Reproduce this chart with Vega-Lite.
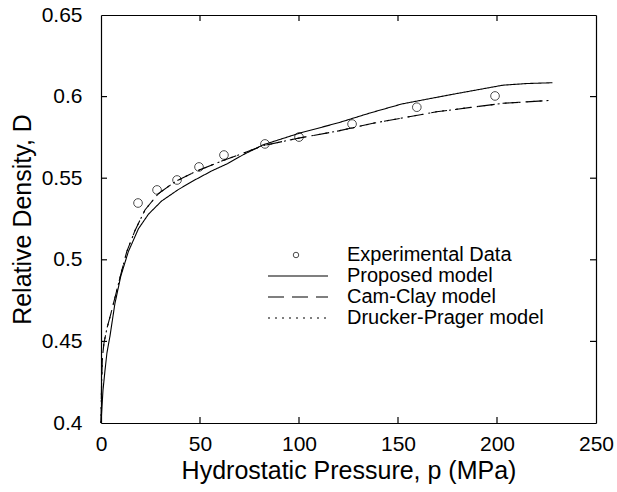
{
  "$schema": "https://vega.github.io/schema/vega-lite/v6.json",
  "width": 495,
  "height": 408,
  "autosize": {"type": "none"},
  "padding": {"left": 101, "top": 15, "right": 21, "bottom": 69},
  "background": "white",
  "config": {
    "font": "Liberation Sans",
    "view": {"stroke": null},
    "axis": {
      "grid": false,
      "ticks": false,
      "domainColor": "black",
      "domainWidth": 1.2,
      "labelColor": "black",
      "labelFontSize": 21,
      "titleColor": "black",
      "titleFontSize": 25,
      "titleFontWeight": "normal"
    },
    "legend": {"labelColor": "black", "labelFontSize": 20, "labelFont": "Liberation Sans", "labelLimit": 400}
  },
  "datasets": {
    "tickmarks": [
      {"edge": "bottom", "p": 50, "D": 0.4},
      {"edge": "bottom", "p": 100, "D": 0.4},
      {"edge": "bottom", "p": 150, "D": 0.4},
      {"edge": "bottom", "p": 200, "D": 0.4},
      {"edge": "top", "p": 50, "D": 0.65},
      {"edge": "top", "p": 100, "D": 0.65},
      {"edge": "top", "p": 150, "D": 0.65},
      {"edge": "top", "p": 200, "D": 0.65},
      {"edge": "left", "p": 0, "D": 0.45},
      {"edge": "left", "p": 0, "D": 0.5},
      {"edge": "left", "p": 0, "D": 0.55},
      {"edge": "left", "p": 0, "D": 0.6},
      {"edge": "right", "p": 250, "D": 0.45},
      {"edge": "right", "p": 250, "D": 0.5},
      {"edge": "right", "p": 250, "D": 0.55},
      {"edge": "right", "p": 250, "D": 0.6}
    ]
  },
  "data": {
    "values": [
      {"series": "Experimental Data", "p": 18.7, "D": 0.5348},
      {"series": "Experimental Data", "p": 28.3, "D": 0.5428},
      {"series": "Experimental Data", "p": 38.4, "D": 0.5489},
      {"series": "Experimental Data", "p": 49.5, "D": 0.5569},
      {"series": "Experimental Data", "p": 62.1, "D": 0.5642},
      {"series": "Experimental Data", "p": 82.8, "D": 0.571},
      {"series": "Experimental Data", "p": 100, "D": 0.5752},
      {"series": "Experimental Data", "p": 126.8, "D": 0.5832},
      {"series": "Experimental Data", "p": 159.5, "D": 0.5935},
      {"series": "Experimental Data", "p": 199, "D": 0.6004},

      {"series": "Proposed model", "p": 0, "D": 0.4},
      {"series": "Proposed model", "p": 0.5, "D": 0.41},
      {"series": "Proposed model", "p": 1, "D": 0.42},
      {"series": "Proposed model", "p": 2, "D": 0.432},
      {"series": "Proposed model", "p": 3, "D": 0.443},
      {"series": "Proposed model", "p": 4.5, "D": 0.453},
      {"series": "Proposed model", "p": 7, "D": 0.473},
      {"series": "Proposed model", "p": 10, "D": 0.49},
      {"series": "Proposed model", "p": 13.8, "D": 0.505},
      {"series": "Proposed model", "p": 18.9, "D": 0.519},
      {"series": "Proposed model", "p": 24, "D": 0.528},
      {"series": "Proposed model", "p": 30.6, "D": 0.536},
      {"series": "Proposed model", "p": 39, "D": 0.543},
      {"series": "Proposed model", "p": 47.5, "D": 0.549},
      {"series": "Proposed model", "p": 56, "D": 0.5545},
      {"series": "Proposed model", "p": 64, "D": 0.559},
      {"series": "Proposed model", "p": 72, "D": 0.5645},
      {"series": "Proposed model", "p": 82, "D": 0.5705},
      {"series": "Proposed model", "p": 100, "D": 0.5775},
      {"series": "Proposed model", "p": 120, "D": 0.584},
      {"series": "Proposed model", "p": 136, "D": 0.59},
      {"series": "Proposed model", "p": 152, "D": 0.5955},
      {"series": "Proposed model", "p": 178, "D": 0.6015},
      {"series": "Proposed model", "p": 203, "D": 0.607},
      {"series": "Proposed model", "p": 215, "D": 0.608},
      {"series": "Proposed model", "p": 228, "D": 0.6085},

      {"series": "Cam-Clay model", "p": 0, "D": 0.4},
      {"series": "Cam-Clay model", "p": 0.3, "D": 0.425},
      {"series": "Cam-Clay model", "p": 0.7, "D": 0.44},
      {"series": "Cam-Clay model", "p": 1.5, "D": 0.449},
      {"series": "Cam-Clay model", "p": 3, "D": 0.458},
      {"series": "Cam-Clay model", "p": 5, "D": 0.467},
      {"series": "Cam-Clay model", "p": 7.5, "D": 0.479},
      {"series": "Cam-Clay model", "p": 10, "D": 0.491},
      {"series": "Cam-Clay model", "p": 13, "D": 0.505},
      {"series": "Cam-Clay model", "p": 17.2, "D": 0.518},
      {"series": "Cam-Clay model", "p": 22.2, "D": 0.5305},
      {"series": "Cam-Clay model", "p": 28.9, "D": 0.5405},
      {"series": "Cam-Clay model", "p": 37.4, "D": 0.5478},
      {"series": "Cam-Clay model", "p": 47.5, "D": 0.554},
      {"series": "Cam-Clay model", "p": 61, "D": 0.5605},
      {"series": "Cam-Clay model", "p": 70, "D": 0.5645},
      {"series": "Cam-Clay model", "p": 82, "D": 0.57},
      {"series": "Cam-Clay model", "p": 100.5, "D": 0.5747},
      {"series": "Cam-Clay model", "p": 120, "D": 0.579},
      {"series": "Cam-Clay model", "p": 138, "D": 0.5838},
      {"series": "Cam-Clay model", "p": 169.5, "D": 0.5907},
      {"series": "Cam-Clay model", "p": 203, "D": 0.5959},
      {"series": "Cam-Clay model", "p": 226, "D": 0.5976},

      {"series": "Drucker-Prager model", "p": 0, "D": 0.4},
      {"series": "Drucker-Prager model", "p": 0.3, "D": 0.425},
      {"series": "Drucker-Prager model", "p": 0.7, "D": 0.44},
      {"series": "Drucker-Prager model", "p": 1.5, "D": 0.449},
      {"series": "Drucker-Prager model", "p": 3, "D": 0.458},
      {"series": "Drucker-Prager model", "p": 5, "D": 0.467},
      {"series": "Drucker-Prager model", "p": 7.5, "D": 0.479},
      {"series": "Drucker-Prager model", "p": 10, "D": 0.491},
      {"series": "Drucker-Prager model", "p": 13, "D": 0.505},
      {"series": "Drucker-Prager model", "p": 17.2, "D": 0.518},
      {"series": "Drucker-Prager model", "p": 22.2, "D": 0.5305},
      {"series": "Drucker-Prager model", "p": 28.9, "D": 0.5405},
      {"series": "Drucker-Prager model", "p": 37.4, "D": 0.5478},
      {"series": "Drucker-Prager model", "p": 47.5, "D": 0.554},
      {"series": "Drucker-Prager model", "p": 61, "D": 0.5605},
      {"series": "Drucker-Prager model", "p": 70, "D": 0.5645},
      {"series": "Drucker-Prager model", "p": 82, "D": 0.57},
      {"series": "Drucker-Prager model", "p": 100.5, "D": 0.5747},
      {"series": "Drucker-Prager model", "p": 120, "D": 0.579},
      {"series": "Drucker-Prager model", "p": 138, "D": 0.5838},
      {"series": "Drucker-Prager model", "p": 169.5, "D": 0.5907},
      {"series": "Drucker-Prager model", "p": 203, "D": 0.5959},
      {"series": "Drucker-Prager model", "p": 226, "D": 0.5976}
    ]
  },
  "layer": [
    {
      "transform": [{"filter": "datum.series !== 'Experimental Data'"}],
      "mark": {"type": "line", "color": "black", "strokeWidth": 1.1},
      "encoding": {
        "x": {
          "field": "p", "type": "quantitative",
          "scale": {"domain": [0, 250], "nice": false},
          "axis": {"orient": "bottom", "title": "Hydrostatic Pressure, p (MPa)", "values": [0, 50, 100, 150, 200, 250], "labelPadding": 10, "titlePadding": 4, "labelFlush": false}
        },
        "y": {
          "field": "D", "type": "quantitative",
          "scale": {"domain": [0.4, 0.65], "nice": false, "zero": false},
          "axis": {"orient": "left", "title": "Relative Density, D", "values": [0.4, 0.45, 0.5, 0.55, 0.6, 0.65], "format": ".2~f", "labelPadding": 19, "titlePadding": 6, "labelFlush": false}
        },
        "strokeDash": {
          "field": "series", "type": "nominal",
          "scale": {"domain": ["Proposed model", "Cam-Clay model", "Drucker-Prager model"], "range": [[1, 0], [16, 8], [2, 5]]},
          "legend": {
            "orient": "none", "legendX": 186, "legendY": 250, "title": null,
            "symbolType": "M-3,0H3", "symbolSize": 400, "symbolStrokeColor": "black", "symbolStrokeWidth": 1.1,
            "labelOffset": 38, "rowPadding": 0, "padding": 0
          }
        }
      }
    },
    {
      "transform": [{"filter": "datum.series === 'Experimental Data'"}],
      "mark": {"type": "point", "filled": false, "color": "black", "size": 75, "strokeWidth": 1},
      "encoding": {
        "x": {
          "field": "p", "type": "quantitative",
          "axis": {"orient": "top", "title": null, "labels": false, "values": [0, 50, 100, 150, 200, 250]}
        },
        "y": {
          "field": "D", "type": "quantitative",
          "axis": {"orient": "right", "title": null, "labels": false, "values": [0.4, 0.45, 0.5, 0.55, 0.6, 0.65]}
        },
        "shape": {
          "field": "series", "type": "nominal",
          "scale": {"range": ["circle"]},
          "legend": {
            "orient": "none", "legendX": 185, "legendY": 230, "title": null,
            "symbolSize": 30, "symbolStrokeColor": "black", "symbolFillColor": "transparent", "symbolStrokeWidth": 1,
            "labelOffset": 41, "padding": 0
          }
        }
      }
    },
    {
      "data": {"name": "tickmarks"},
      "transform": [{"filter": "datum.edge === 'bottom' || datum.edge === 'top'"}],
      "mark": {"type": "tick", "orient": "vertical", "color": "black", "size": 12, "thickness": 1.2, "clip": true, "opacity": 1},
      "encoding": {
        "x": {"field": "p", "type": "quantitative", "axis": null},
        "y": {"field": "D", "type": "quantitative", "axis": null}
      }
    },
    {
      "data": {"name": "tickmarks"},
      "transform": [{"filter": "datum.edge === 'left' || datum.edge === 'right'"}],
      "mark": {"type": "tick", "orient": "horizontal", "color": "black", "size": 12, "thickness": 1.2, "clip": true, "opacity": 1},
      "encoding": {
        "x": {"field": "p", "type": "quantitative", "axis": null},
        "y": {"field": "D", "type": "quantitative", "axis": null}
      }
    }
  ],
  "resolve": {"axis": {"x": "independent", "y": "independent"}}
}
